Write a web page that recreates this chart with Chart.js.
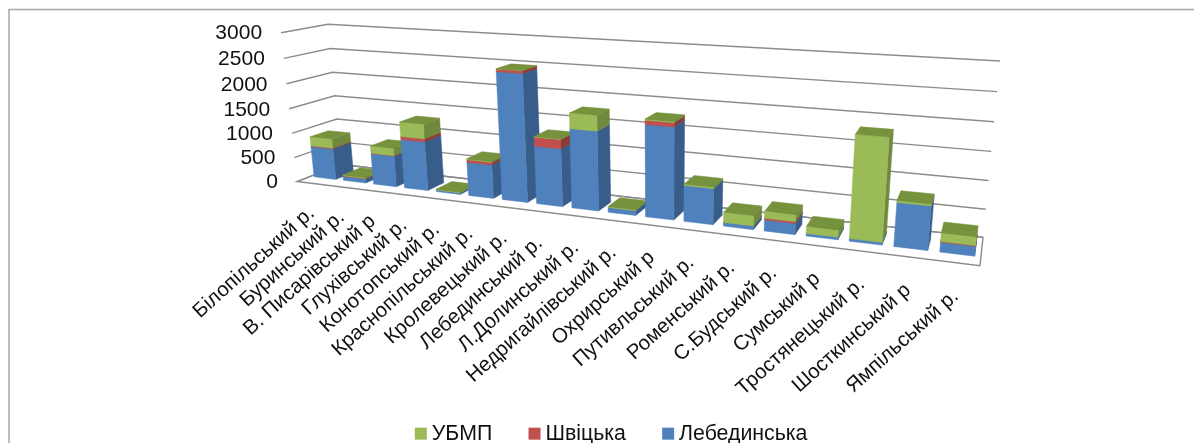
<!DOCTYPE html>
<html><head><meta charset="utf-8">
<style>html,body{margin:0;padding:0;background:#fff;overflow:hidden}canvas{display:block}</style>
<script src="https://cdn.jsdelivr.net/npm/chart.js@4"></script>
</head><body><canvas id="c" width="1194" height="443"></canvas>
<script>
const categories=["Білопільський р.","Буринський р.","В. Писарівський р","Глухівський р.","Конотопський р.","Краснопільський р.","Кролевецький р.","Лебединський р.","Л.Долинський р.","Недригайлівський р.","Охрирський р","Путивльський р.","Роменський р.","С.Будський р.","Сумський р","Тростянецький р.","Шосткинський р","Ямпільський р."];
const lebedynska=[640,90,630,980,30,660,2450,1110,1500,90,1700,660,65,200,45,45,760,170];
const shvitska=[15,5,5,60,0,50,50,170,0,0,75,0,0,30,0,0,0,10];
const ubmp=[190,20,150,290,15,20,5,15,290,20,20,30,190,130,130,1790,35,150];

// 3D view: screen positions of the box corners (u along categories, d depth, h height)
const corners=[[0,0,0,297,181],[1,0,0,980,266],[0,1,0,341,165],[1,1,0,983,237],[0,1,1,328,24],[1,1,1,1000,61],[0,0,1,281,33]];
const depthFront=0.29, depthBack=0.70;

function solveCamera(pts){
  const A=[],b=[];
  pts.forEach(([u,d,h,x,y])=>{x/=1000;y/=1000;
    A.push([u,d,h,1,0,0,0,0,-x*u,-x*d,-x*h]);b.push(x);
    A.push([0,0,0,0,u,d,h,1,-y*u,-y*d,-y*h]);b.push(y);});
  const n=11,M=[];
  for(let i=0;i<n;i++){M[i]=[];for(let j=0;j<=n;j++){let s=0;
    for(let r=0;r<A.length;r++)s+=A[r][i]*(j<n?A[r][j]:b[r]);
    M[i][j]=s+(i===j?1e-9:0);}}
  for(let i=0;i<n;i++){let p=i;for(let r=i+1;r<n;r++)if(Math.abs(M[r][i])>Math.abs(M[p][i]))p=r;
    [M[i],M[p]]=[M[p],M[i]];
    for(let r=0;r<n;r++)if(r!==i){const f=M[r][i]/M[i][i];for(let c=i;c<=n;c++)M[r][c]-=f*M[i][c];}}
  return M.map((row,i)=>row[n]/row[i]);
}
const P=solveCamera(corners);
function proj(u,d,h){const w=P[8]*u+P[9]*d+P[10]*h+1;
  return [1000*(P[0]*u+P[1]*d+P[2]*h+P[3])/w,1000*(P[4]*u+P[5]*d+P[6]*h+P[7])/w];}
function poly(ctx,pts,fill){ctx.beginPath();pts.forEach((p,i)=>i?ctx.lineTo(p[0],p[1]):ctx.moveTo(p[0],p[1]));ctx.closePath();
  ctx.fillStyle=fill;ctx.fill();ctx.strokeStyle=fill;ctx.lineWidth=0.5;ctx.stroke();}

const sideColors=["#385D8A","#8C3A38","#71893F"];
const topColors=["#4A6E9C","#A0413E","#76923C"];
const gridColor="#8C8C8C";
const font='"Liberation Sans", Arial, sans-serif';

const view3d={id:"view3d",
  afterLayout(chart){const lg=chart.legend;lg.top=381;lg.left=34;lg.right=1194;},
  beforeDatasetsDraw(chart){
    const ctx=chart.ctx,a=chart.chartArea,xs=chart.scales.x,ys=chart.scales.y;
    const U=x=>(x-a.left)/a.width,H=y=>(a.bottom-y)/a.height;
    ctx.save();
    // outer frame
    ctx.strokeStyle="#A6A6A6";ctx.lineWidth=1.5;ctx.beginPath();ctx.moveTo(9,443);ctx.lineTo(9,9.5);ctx.lineTo(1194,9.5);ctx.stroke();
    // gridlines on both walls
    ctx.strokeStyle=gridColor;ctx.lineWidth=1.4;
    ys.ticks.forEach((t,i)=>{const h=H(ys.getPixelForTick(i));
      const p=[proj(0,0,h),proj(0,1,h),proj(1,1,h)];
      ctx.beginPath();ctx.moveTo(p[0][0],p[0][1]);ctx.lineTo(p[1][0],p[1][1]);ctx.lineTo(p[2][0],p[2][1]);ctx.stroke();
      ctx.fillStyle="#111";ctx.font="21px "+font;ctx.textAlign="right";ctx.textBaseline="middle";
      ctx.fillText(t.label,p[0][0]-19,p[0][1]+1);});
    // floor
    const f=[proj(0,0,0),proj(1,0,0),proj(1,1,0),proj(0,1,0)];
    ctx.beginPath();f.forEach((p,i)=>i?ctx.lineTo(p[0],p[1]):ctx.moveTo(p[0],p[1]));ctx.closePath();ctx.stroke();
    // bars, left to right, bottom to top
    xs.ticks.forEach((t,j)=>{
      chart.data.datasets.forEach((ds,i)=>{
        const el=chart.getDatasetMeta(i).data[j];
        if(!ds.data[j])return;
        const u0=U(el.x-el.width/2),u1=U(el.x+el.width/2),h0=H(el.base),h1=H(el.y);
        const d0=depthFront,d1=depthBack;
        poly(ctx,[proj(u1,d0,h0),proj(u1,d1,h0),proj(u1,d1,h1),proj(u1,d0,h1)],sideColors[i]);
        poly(ctx,[proj(u0,d0,h0),proj(u1,d0,h0),proj(u1,d0,h1),proj(u0,d0,h1)],ds.backgroundColor);
        poly(ctx,[proj(u0,d0,h1),proj(u1,d0,h1),proj(u1,d1,h1),proj(u0,d1,h1)],topColors[i]);
      });
    });
    // category labels
    ctx.fillStyle="#111";ctx.font="20.5px "+font;ctx.textAlign="right";ctx.textBaseline="middle";
    xs.ticks.forEach((t,j)=>{const u=U(xs.getPixelForTick(j));const p=proj(u,0,0);
      ctx.save();ctx.translate(p[0],p[1]+27+4*u);ctx.rotate(-42*Math.PI/180);ctx.fillText(t.label,0,0);ctx.restore();});
    ctx.restore();
    return false;
  }};

new Chart(document.getElementById("c"),{type:"bar",
  data:{labels:categories,datasets:[
    {label:"Лебединська",data:lebedynska,backgroundColor:"#4F81BD"},
    {label:"Швіцька",data:shvitska,backgroundColor:"#C0504D"},
    {label:"УБМП",data:ubmp,backgroundColor:"#9BBB59"}]},
  options:{responsive:false,animation:false,devicePixelRatio:1,
    datasets:{bar:{barPercentage:0.74,categoryPercentage:1}},
    scales:{
      x:{stacked:true,grid:{display:false},border:{display:false},ticks:{display:false,autoSkip:false}},
      y:{stacked:true,min:0,max:3000,grid:{display:false},border:{display:false},ticks:{display:false,stepSize:500,callback:v=>String(v)}}},
    plugins:{tooltip:{enabled:false},
      legend:{position:"bottom",reverse:true,labels:{usePointStyle:true,pointStyle:"rect",boxWidth:0.5,boxHeight:12,padding:42,color:"#111",font:{family:font,size:21.3}}}}},
  plugins:[view3d]});
</script></body></html>
